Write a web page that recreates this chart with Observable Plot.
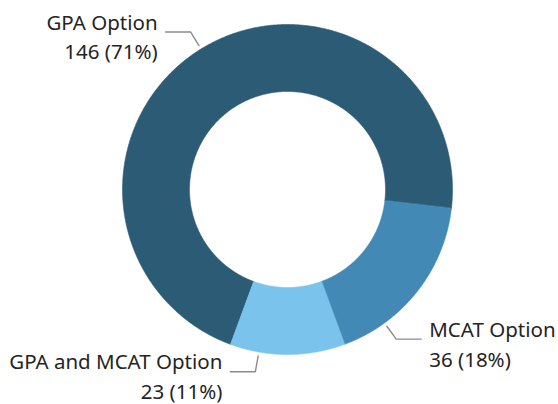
<!DOCTYPE html>
<html><head><meta charset="utf-8">
<script src="https://cdn.jsdelivr.net/npm/d3@7"></script>
<script src="https://cdn.jsdelivr.net/npm/@observablehq/plot@0.6"></script>
<style>html,body{margin:0;padding:0;background:#fff;}</style>
</head><body><div id="chart"></div>
<script>
// ---- data ----
const categories = ["GPA Option", "MCAT Option", "GPA and MCAT Option"];
const values = [146, 36, 23];
const percentLabels = ["71%", "18%", "11%"];
const colors = ["#2c5b76", "#4389b5", "#7ac3ec"];

// ---- layout ----
const W = 558, H = 404, cx = 287, cy = 189;
const rOuter = 165, rInner = 98;
const labelAngleDeg = [328.4, 144, 190];
const fontFamily = "'Segoe UI', 'Noto Sans', 'Open Sans', sans-serif";

const total = d3.sum(values);
const before = values[0] + values[1] + values[2] / 2;
const startDeg = 180 - 360 * before / total + 360;
const a0 = startDeg * Math.PI / 180;
const arcs = d3.pie().sort(null).value(d => d).startAngle(a0).endAngle(a0 + 2 * Math.PI)(values);
const pt = (r, a) => ({x: r * Math.sin(a), y: r * Math.cos(a)});

const slices = [];
arcs.forEach((p, i) => {
  const n = Math.max(8, Math.ceil((p.endAngle - p.startAngle) / (Math.PI / 360)));
  for (let k = 0; k <= n; k++) {
    const a = p.startAngle + (p.endAngle - p.startAngle) * k / n;
    slices.push({cat: categories[i], ...pt(rOuter, a)});
  }
  for (let k = n; k >= 0; k--) {
    const a = p.startAngle + (p.endAngle - p.startAngle) * k / n;
    slices.push({cat: categories[i], ...pt(rInner, a)});
  }
});

const connectors = [];
const labels = [];
categories.forEach((c, i) => {
  const a = labelAngleDeg[i] * Math.PI / 180;
  const left = Math.sin(a) < 0;
  const s = pt(rOuter + 4, a), e = pt(rOuter + 20, a);
  const dir = left ? -1 : 1;
  connectors.push({cat: c, ...s}, {cat: c, ...e}, {cat: c, x: e.x + dir * 25, y: e.y});
  labels.push({cat: c, left, x: e.x + dir * 33, y: e.y - 3, text: `${c}\n${values[i]} (${percentLabels[i]})`});
});

const textOpts = {x: "x", y: "y", text: "text", fontSize: 20.5, lineHeight: 1.46, lineAnchor: "middle", fill: "#252423"};

const chart = Plot.plot({
  width: W, height: H,
  margin: 0,
  x: {domain: [-cx, W - cx], axis: null},
  y: {domain: [-(H - cy), cy], axis: null},
  color: {domain: categories, range: colors},
  style: {fontFamily, background: "#fff", overflow: "visible"},
  marks: [
    Plot.line(slices, {x: "x", y: "y", z: "cat", fill: "cat", stroke: "cat", strokeWidth: 0.6, curve: "linear-closed"}),
    Plot.line(connectors, {x: "x", y: "y", z: "cat", stroke: "#8c8c8c", strokeWidth: 1.4, curve: "linear"}),
    Plot.text(labels.filter(d => d.left), {...textOpts, textAnchor: "end"}),
    Plot.text(labels.filter(d => !d.left), {...textOpts, textAnchor: "start"})
  ]
});
document.getElementById("chart").append(chart);
</script>
</body></html>
